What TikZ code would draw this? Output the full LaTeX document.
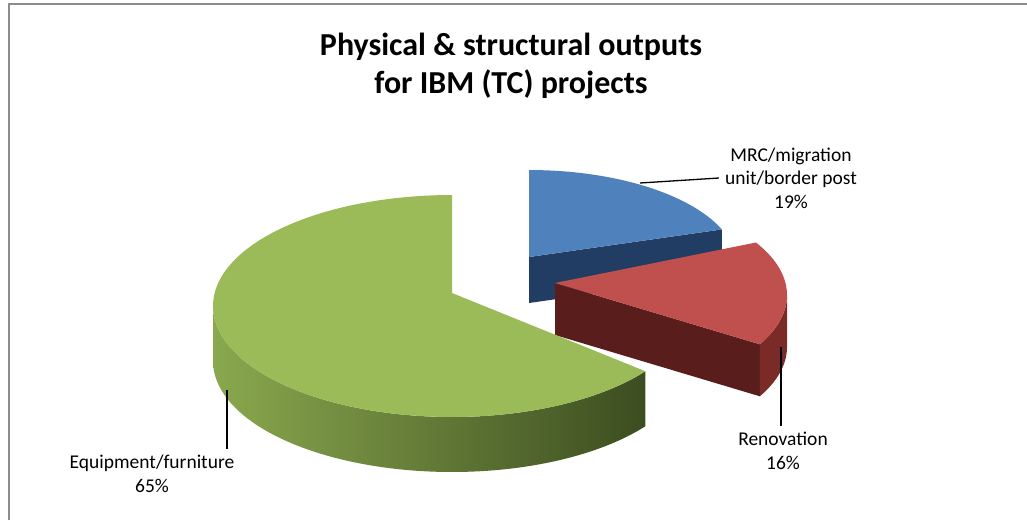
\documentclass[tikz,border=0pt]{standalone}
\usepackage{fontspec}
\setmainfont{Carlito}
\usetikzlibrary{positioning}

\definecolor{greentop}{HTML}{9BBB59}
\definecolor{greenside}{HTML}{8AA84E}
\definecolor{greendark}{HTML}{3C4D20}
\definecolor{bluetop}{HTML}{4F81BD}
\definecolor{blueside}{HTML}{213D63}
\definecolor{redtop}{HTML}{C0504D}
\definecolor{redside}{HTML}{591E1C}
\definecolor{redrim}{HTML}{7A2A27}
\definecolor{framegray}{HTML}{8C8C8C}

\begin{document}
\begin{tikzpicture}[x=1pt,y=-1pt,
  lbl/.style={align=center,font=\fontsize{19.5}{23.5}\selectfont,inner sep=0pt},
  leader/.style={line width=1.3pt,black}
]
\useasboundingbox (0,0) rectangle (1027,520);
\draw[framegray,line width=2pt] (9,520) -- (9,4) -- (1027,4);

\node[font=\fontsize{32}{38}\selectfont\bfseries,align=center] (title) at (511,66)
  {Physical \& structural outputs\\for IBM (TC) projects};

% MRC slice (back)
\fill[blueside] (529,257) -- ({529+208*cos(22)},{265-95*sin(22)})
  -- ({529+208*cos(22)},{311-95*sin(22)}) -- (529,303) -- cycle;
\fill[bluetop] (529,257) -- plot[domain=22:90,samples=40]
  ({529+208*cos(\x)},{265-95*sin(\x)}) -- cycle;

% Renovation slice
\fill[redside] (555,283) -- ({555+232*cos(-28)},{295-105*sin(-28)})
  -- ({555+232*cos(-28)},{347-105*sin(-28)}) -- (555,335) -- cycle;
\fill[redrim] plot[domain=-28:0,samples=30] ({555+232*cos(\x)},{295-105*sin(\x)})
  -- plot[domain=0:-28,samples=30] ({555+232*cos(\x)},{347-105*sin(\x)}) -- cycle;
\fill[redtop] (555,283) -- plot[domain=-28:30,samples=40]
  ({555+232*cos(\x)},{295-105*sin(\x)}) -- cycle;

% Equipment slice
\shade[left color=greenside,right color=greendark]
  plot[domain=180:324,samples=80] ({452+239*cos(\x)},{306-111*sin(\x)})
  -- plot[domain=324:180,samples=80] ({452+239*cos(\x)},{361-111*sin(\x)}) -- cycle;
\fill[greentop] (452,293) -- plot[domain=90:324,samples=120]
  ({452+239*cos(\x)},{306-111*sin(\x)}) -- cycle;

% labels
\node[lbl] (mrc) at (791,178) {MRC/migration\\unit/border post\\19\%};
\node[lbl] (reno) at (783,451) {Renovation\\16\%};
\node[lbl] (equip) at (152,474) {Equipment/furniture\\65\%};

\coordinate (mrcpt) at (640,183);
\coordinate (renopt) at (781,347);
\coordinate (equippt) at (227,390);

\draw[leader] (mrcpt) -- ([xshift=-6pt]mrc.west);
\draw[leader,shorten >=6pt] (renopt) -- (renopt |- reno.north);
\draw[leader,shorten >=6pt] (equippt) -- (equippt |- equip.north);
\end{tikzpicture}
\end{document}
